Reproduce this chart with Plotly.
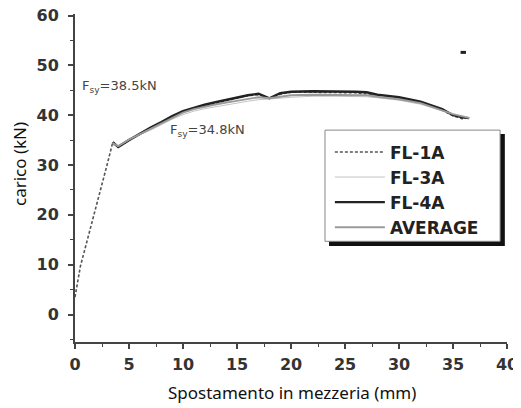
import plotly.graph_objects as go

# ---- data ----
fl1a_x = [0, 0.5, 1, 1.5, 2, 2.5, 3, 3.5, 4, 5, 6, 7, 8, 9, 10, 11, 12, 13, 14, 15, 16,
          17, 18, 19, 20, 22, 24, 26, 28, 30, 32, 34, 35, 36]
fl1a_y = [3.5, 9.7, 13.8, 17.8, 22.0, 26.1, 30.3, 34.6, 33.6, 35.0, 36.2, 37.4, 38.6,
          39.7, 40.6, 41.3, 41.9, 42.4, 42.9, 43.4, 43.9, 44.1, 43.4, 44.2, 44.6, 44.6,
          44.6, 44.5, 44.0, 43.4, 42.5, 41.0, 39.9, 39.2]

curve_x = [3.5, 4, 5, 6, 7, 8, 9, 10, 11, 12, 13, 14, 15, 16, 17, 18, 19, 20, 22, 24,
           26, 27, 28, 30, 32, 34, 35, 36, 36.5]
fl4a_y = [34.6, 33.6, 35.0, 36.3, 37.5, 38.6, 39.8, 40.8, 41.5, 42.1, 42.6, 43.1, 43.6,
          44.0, 44.3, 43.4, 44.4, 44.7, 44.8, 44.8, 44.7, 44.6, 44.1, 43.6, 42.7, 41.2,
          40.0, 39.5, 39.4]
avg_y = [34.4, 33.8, 35.1, 36.2, 37.3, 38.4, 39.5, 40.5, 41.2, 41.7, 42.1, 42.5, 42.9,
         43.3, 43.6, 43.4, 43.7, 44.0, 44.1, 44.1, 44.1, 44.0, 43.7, 43.2, 42.4, 41.0,
         40.2, 39.7, 39.4]
fl3a_y = [34.0, 33.9, 35.2, 36.1, 37.0, 38.1, 39.2, 40.1, 40.8, 41.3, 41.7, 42.1, 42.4,
          42.8, 43.1, 43.2, 43.4, 43.6, 43.8, 43.8, 43.8, 43.7, 43.5, 43.0, 42.2, 40.9,
          40.1, 39.6, 39.4]

stray_x = [35.7, 36.2]
stray_y = [52.6, 52.6]

x_ticks = [0, 5, 10, 15, 20, 25, 30, 35, 40]
y_ticks = [0, 10, 20, 30, 40, 50, 60]

ann_fsy1 = "F<sub>sy</sub>=38.5kN"
ann_fsy2 = "F<sub>sy</sub>=34.8kN"

fig = go.Figure()
fig.add_trace(go.Scatter(x=fl1a_x, y=fl1a_y, name="FL-1A", mode="lines",
                         line=dict(color="#555555", width=1.6, dash="3px,2px")))
fig.add_trace(go.Scatter(x=curve_x, y=fl3a_y, name="FL-3A", mode="lines",
                         line=dict(color="#c4c4c4", width=1)))
fig.add_trace(go.Scatter(x=curve_x, y=fl4a_y, name="FL-4A", mode="lines",
                         line=dict(color="#222222", width=2.4)))
fig.add_trace(go.Scatter(x=curve_x, y=avg_y, name="AVERAGE", mode="lines",
                         line=dict(color="#9a9a9a", width=1.8)))
fig.add_trace(go.Scatter(x=stray_x, y=stray_y, mode="lines", showlegend=False,
                         line=dict(color="#222222", width=3)))

tickfont = dict(family="DejaVu Sans", size=16, weight="bold", color="#333333")

fig.update_xaxes(range=[0, 40], tickvals=x_ticks, ticks="outside", ticklen=5,
                 tickwidth=1.5, tickcolor="#444444", showline=True, linecolor="#444444",
                 linewidth=2, showgrid=False, zeroline=False, tickfont=tickfont,
                 ticklabelstandoff=2, automargin=False, ticklabeloverflow="allow",
                 minor=dict(dtick=2.5, ticks="outside", ticklen=3, tickcolor="#444444",
                            tickwidth=1.2, showgrid=False))
fig.update_yaxes(range=[-5.5, 60.3], tickvals=y_ticks, ticks="outside", ticklen=5,
                 tickwidth=1.5, tickcolor="#444444", showline=True, linecolor="#444444",
                 linewidth=2, showgrid=False, zeroline=False, tickfont=tickfont,
                 ticklabelstandoff=6, automargin=False, ticklabeloverflow="allow",
                 minor=dict(dtick=5, ticks="outside", ticklen=3, tickcolor="#444444",
                            tickwidth=1.2, showgrid=False))

# legend box with shadow
fig.add_shape(type="rect", xref="paper", yref="paper", x0=0.588, x1=0.995,
              y0=0.293, y1=0.634, fillcolor="#111111", line=dict(width=0), layer="above")
fig.add_shape(type="rect", xref="paper", yref="paper", x0=0.5787, x1=0.984,
              y0=0.307, y1=0.646, fillcolor="white", line=dict(color="#888888", width=1),
              layer="above")

annfont = dict(family="DejaVu Sans", size=13, color="#444444")
fig.add_annotation(x=0.45, y=45.7, xref="x", yref="y", text=ann_fsy1, showarrow=False,
                   xanchor="left", yanchor="middle", font=annfont)
fig.add_annotation(x=8.6, y=37.0, xref="x", yref="y", text=ann_fsy2, showarrow=False,
                   xanchor="left", yanchor="middle", font=annfont)

titlefont = dict(family="Noto Sans", size=17, color="#111111")
fig.add_annotation(x=0.502, y=-0.155, xref="paper", yref="paper",
                   text="Spostamento in mezzeria (mm)", showarrow=False,
                   xanchor="center", yanchor="middle", font=titlefont)
fig.add_annotation(x=-0.127, y=0.543, xref="paper", yref="paper", text="carico (kN)",
                   showarrow=False, textangle=-90, xanchor="center", yanchor="middle",
                   font=titlefont)

# page has an 8px body margin: figure is placed at (8, 8)
fig.update_layout(
    width=513, height=400,
    margin=dict(l=67, r=14, t=6, b=66, autoexpand=False),
    paper_bgcolor="white", plot_bgcolor="white",
    showlegend=True,
    legend=dict(x=0.59, y=0.633, xanchor="left", yanchor="top",
                bgcolor="rgba(0,0,0,0)", borderwidth=0, itemwidth=50,
                font=dict(family="DejaVu Sans", size=17, weight="bold", color="#222222")),
)

fig.write_html("out.html")
